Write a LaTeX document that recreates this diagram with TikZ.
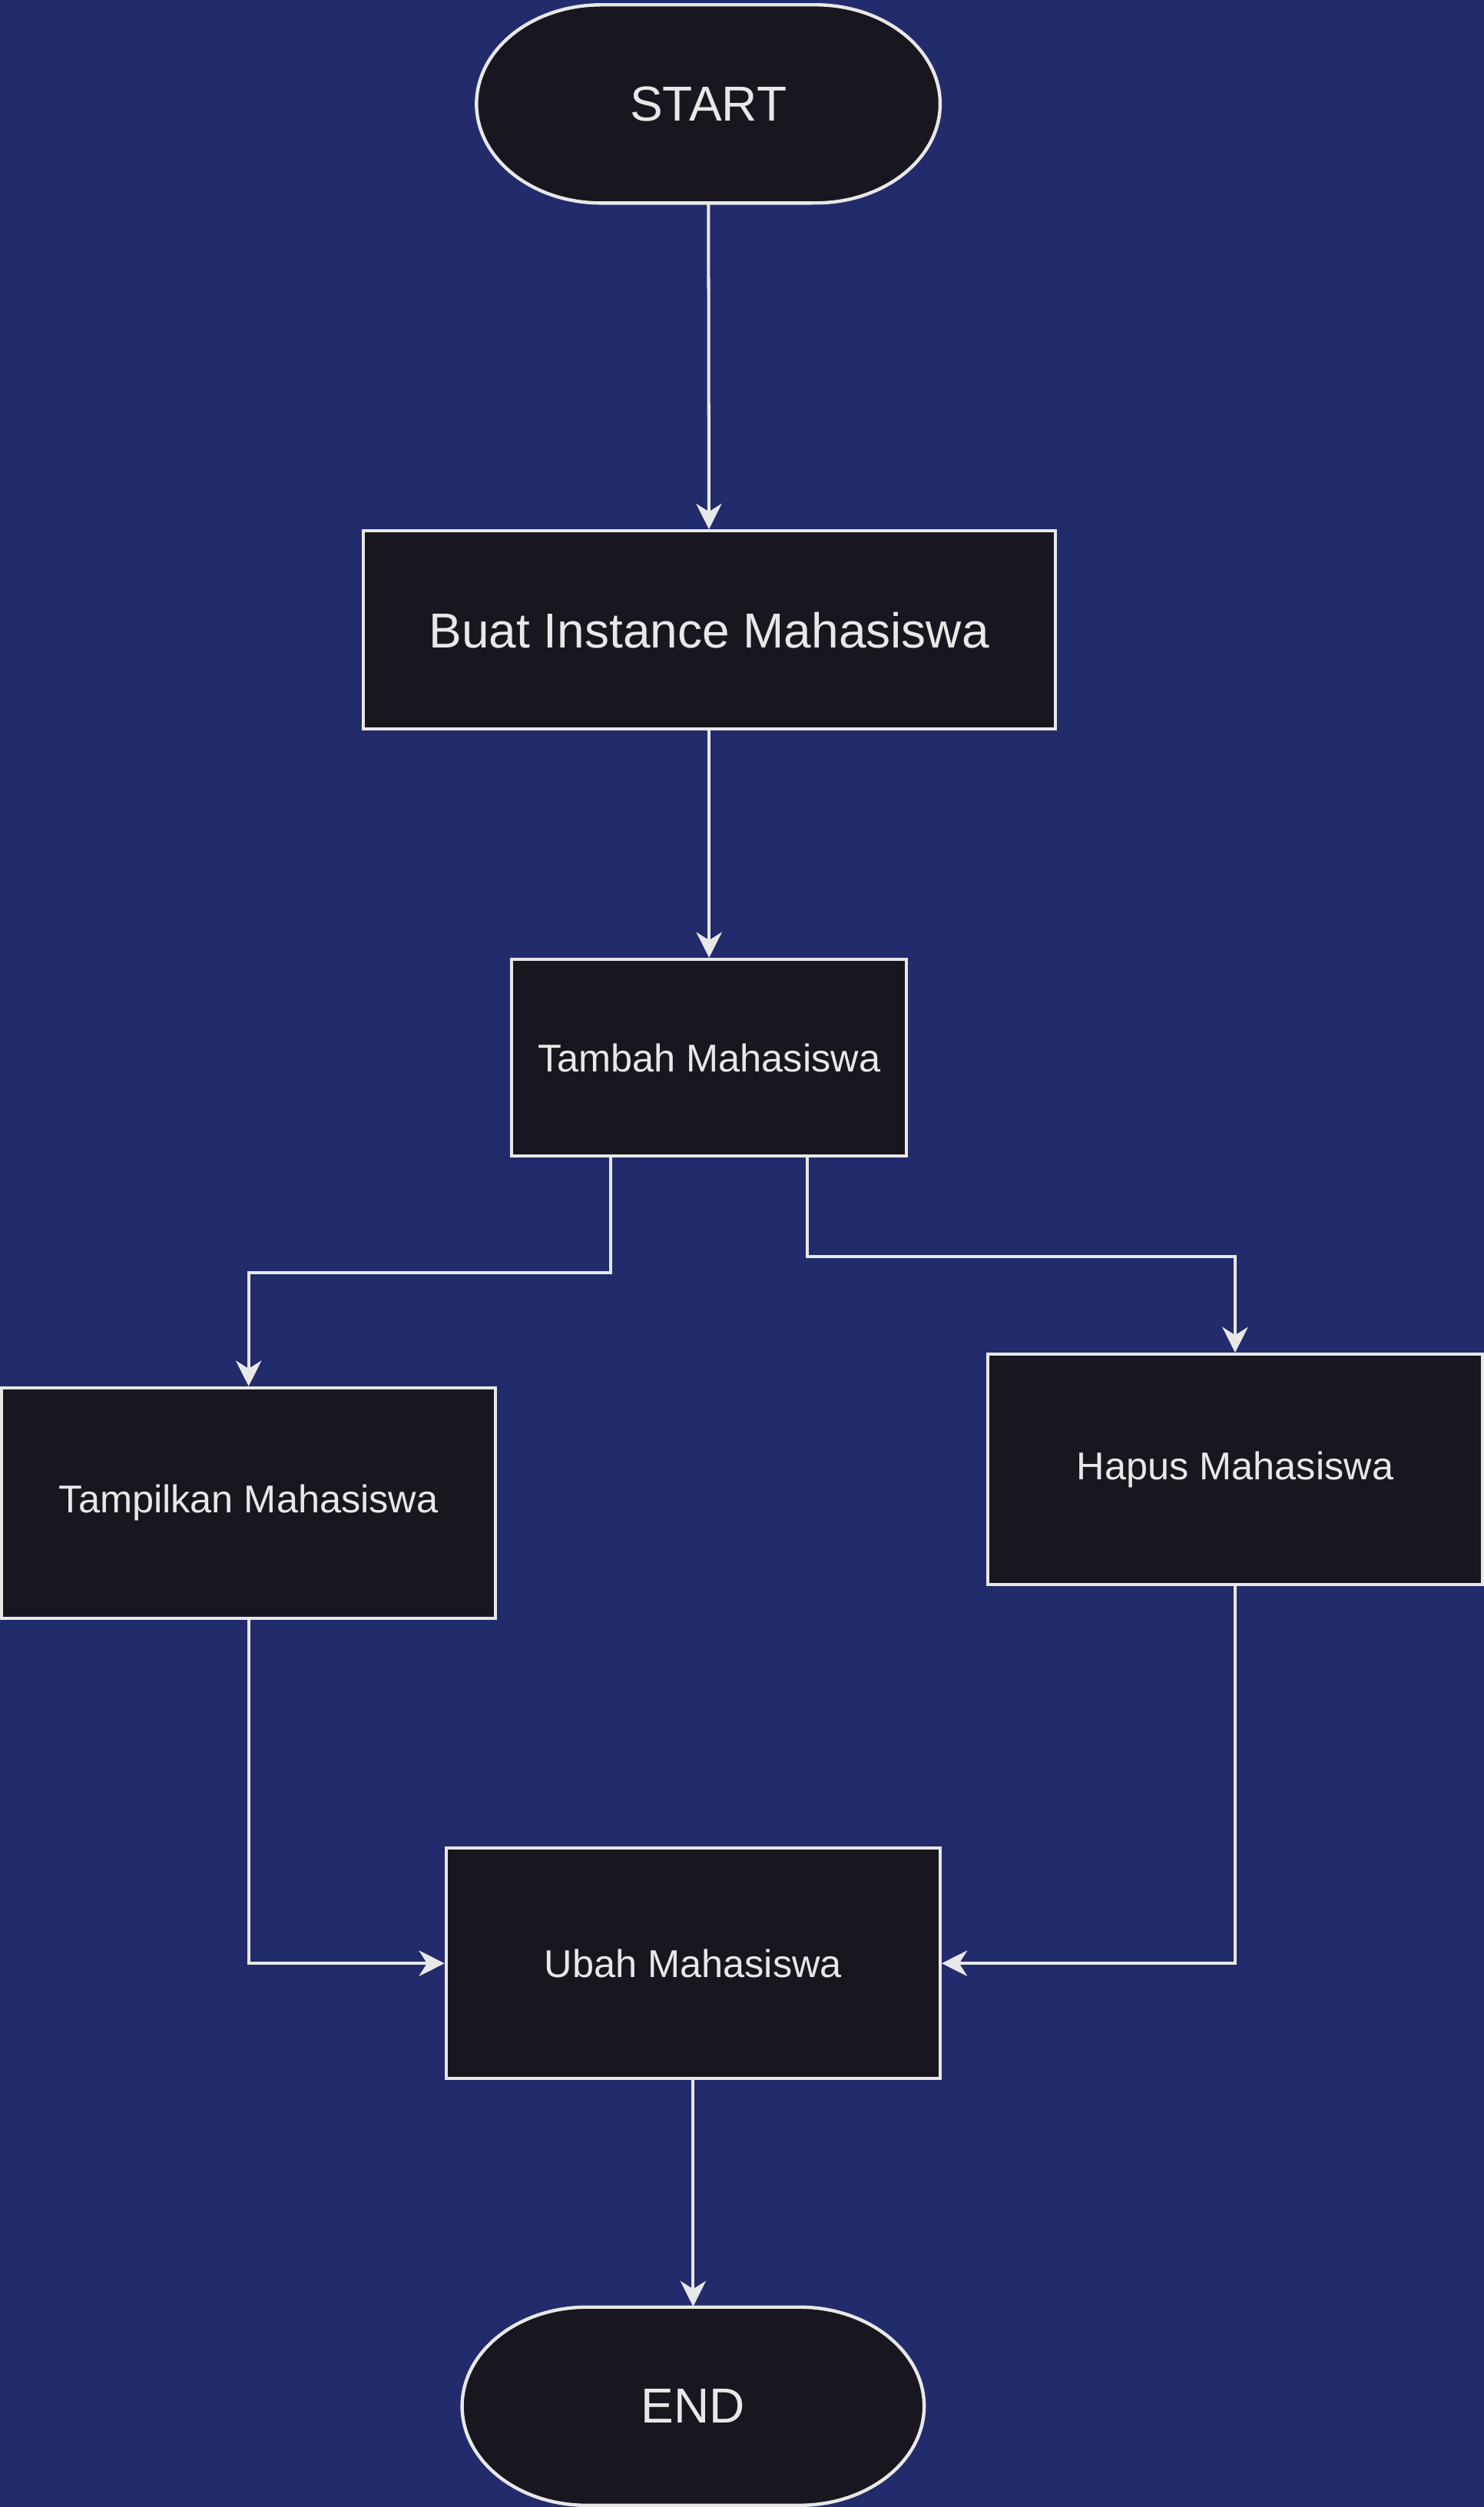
\documentclass[tikz,border=0pt]{standalone}
\usepackage{fontspec}
\setmainfont{Liberation Sans}
\usetikzlibrary{arrows.meta}
\definecolor{bgblue}{HTML}{222B6B}
\definecolor{boxfill}{HTML}{18161F}
\definecolor{linegray}{HTML}{E8E8E8}

\begin{document}
\begin{tikzpicture}[x=0.02cm,y=-0.02cm,
  termshape/.style={draw=linegray,fill=boxfill,line width=1.2pt},
  terminal/.style={rectangle,text=linegray,inner sep=0pt,minimum width=5.8cm,minimum height=2.48cm,
    font=\fontsize{17.5}{20}\selectfont},
  procbox/.style={rectangle,draw=linegray,fill=boxfill,line width=1.1pt,text=linegray,
    inner sep=0pt,font=\fontsize{13.8}{16}\selectfont},
  link/.style={draw=linegray,line width=1.1pt,-{Stealth[length=0.32cm,width=0.32cm,inset=0.1cm]}}]

\fill[bgblue] (0,0) rectangle (928,1568);

% terminator outlines
\filldraw[termshape] (376,3) -- (510,3) arc[start angle=90,end angle=-90,x radius=1.56cm,y radius=1.24cm]
  -- (376,127) arc[start angle=270,end angle=90,x radius=1.56cm,y radius=1.24cm] -- cycle;
\filldraw[termshape] (367,1443) -- (500,1443) arc[start angle=90,end angle=-90,x radius=1.56cm,y radius=1.24cm]
  -- (367,1567) arc[start angle=270,end angle=90,x radius=1.56cm,y radius=1.24cm] -- cycle;

\node[terminal] (start) at (443,65) {START};
\node[procbox,minimum width=8.66cm,minimum height=2.48cm,font=\fontsize{17.5}{20}\selectfont] (buat) at (443.5,394) {Buat Instance Mahasiswa};
\node[procbox,minimum width=4.94cm,minimum height=2.46cm] (tambah) at (443.5,661.5) {Tambah Mahasiswa};
\node[procbox,minimum width=6.18cm,minimum height=2.88cm] (tampil) at (155.5,940) {Tampilkan Mahasiswa};
\node[procbox,minimum width=6.18cm,minimum height=2.88cm] (hapus) at (772.5,919) {Hapus Mahasiswa};
\node[procbox,minimum width=6.18cm,minimum height=2.88cm] (ubah) at (433.5,1228) {Ubah Mahasiswa};
\node[terminal,minimum width=5.78cm] (stop) at (433.5,1505) {END};

\draw[link] (start) -- (buat);
\draw[link] (buat) -- (tambah);
\draw[link] ([xshift=-1.23cm]tambah.south) -- ++(0,72) -| (tampil.north);
\draw[link] ([xshift=1.23cm]tambah.south) -- ++(0,62) -| (hapus.north);
\draw[link] (tampil.south) |- (ubah.west);
\draw[link] (hapus.south) |- (ubah.east);
\draw[link] (ubah) -- (stop);

\end{tikzpicture}
\end{document}
